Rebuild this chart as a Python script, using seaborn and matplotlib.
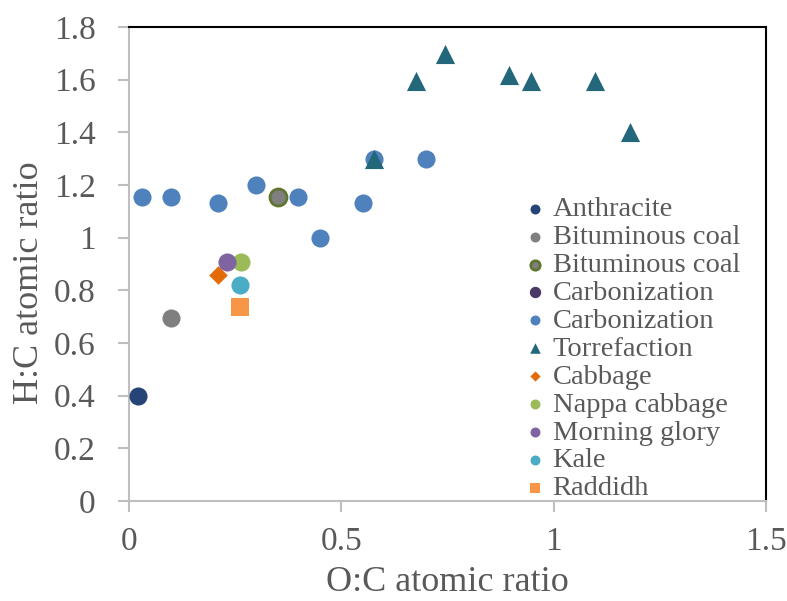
import numpy as np
import pandas as pd
import matplotlib
matplotlib.use('Agg')
import matplotlib.pyplot as plt
import seaborn as sns

# series: (label, O:C values, H:C values)
anthracite_x = [0.022]
anthracite_y = [0.40]
bitum_x = [0.098]
bitum_y = [0.694]
bitum2_x = [0.35]
bitum2_y = [1.155]
carb_dark_x = []
carb_dark_y = []
carb_x = [0.031, 0.099, 0.209, 0.300, 0.398, 0.449, 0.551, 0.576, 0.700]
carb_y = [1.155, 1.155, 1.130, 1.200, 1.155, 1.000, 1.130, 1.300, 1.300]
torr_x = [0.576, 0.677, 0.745, 0.895, 0.947, 1.098, 1.180]
torr_y = [1.300, 1.595, 1.698, 1.618, 1.595, 1.595, 1.403]
cabbage_x = [0.210]
cabbage_y = [0.858]
nappa_x = [0.264]
nappa_y = [0.906]
morning_x = [0.230]
morning_y = [0.906]
kale_x = [0.262]
kale_y = [0.819]
radish_x = [0.262]
radish_y = [0.736]

series = [
    ('Anthracite', anthracite_x, anthracite_y, '#264478', None, 'o', 170),
    ('Bituminous coal', bitum_x, bitum_y, '#7f7f7f', None, 'o', 170),
    ('Bituminous coal', bitum2_x, bitum2_y, '#7f7f7f', '#5f7530', 'o', 150),
    ('Carbonization', carb_dark_x, carb_dark_y, '#4a3866', None, 'o', 170),
    ('Carbonization', carb_x, carb_y, '#4f81bd', None, 'o', 170),
    ('Torrefaction', torr_x, torr_y, '#23687a', None, '^', 190),
    ('Cabbage', cabbage_x, cabbage_y, '#e36c09', None, 'D', 90),
    ('Nappa cabbage', nappa_x, nappa_y, '#9bbb59', None, 'o', 170),
    ('Morning glory', morning_x, morning_y, '#8064a2', None, 'o', 170),
    ('Kale', kale_x, kale_y, '#4bacc6', None, 'o', 170),
    ('Raddidh', radish_x, radish_y, '#f79646', None, 's', 170),
]

sns.set_theme(style='white')
plt.rcParams['font.family'] = ['Liberation Serif', 'DejaVu Serif']

fig = plt.figure(figsize=(7.87, 6.01), dpi=100)
ax = fig.add_axes([129 / 787, 1 - 501 / 601, 637 / 787, 474 / 601])

for label, xs, ys, color, edge, marker, size in series:
    df = pd.DataFrame({'x': xs, 'y': ys}, dtype=float)
    if df.empty:
        ax.scatter([], [], color=color, marker=marker, s=size, label=label)
        continue
    lw = 2 if edge else 0
    sns.scatterplot(data=df, x='x', y='y', ax=ax, color=color, marker=marker, s=size,
                    edgecolor=edge if edge else color, linewidth=lw, label=label, zorder=3)

ax.set_xlim(0, 1.5)
ax.set_ylim(0, 1.8)
ax.set_xticks([0, 0.5, 1, 1.5])
ax.set_xticklabels(['0', '0.5', '1', '1.5'])
ax.set_yticks(np.arange(0, 1.81, 0.2))
ax.set_yticklabels(['0', '0.2', '0.4', '0.6', '0.8', '1', '1.2', '1.4', '1.6', '1.8'])

txt = '#595959'
ax.tick_params(axis='both', which='major', labelsize=24, colors='#bfbfbf', labelcolor=txt,
               direction='out', length=8, width=1.5, bottom=True, left=True)
ax.tick_params(axis='x', pad=10)
ax.tick_params(axis='y', pad=16)
ax.set_xlabel('O:C atomic ratio', fontsize=26, color=txt)
ax.set_ylabel('H:C atomic ratio', fontsize=26, color=txt)
ax.xaxis.set_label_coords(0.5, -0.137)
ax.yaxis.set_label_coords(-0.13, 0.46)

for side in ['left', 'bottom']:
    ax.spines[side].set_color('#bfbfbf')
    ax.spines[side].set_linewidth(1.5)
for side in ['top', 'right']:
    ax.spines[side].set_color('black')
    ax.spines[side].set_linewidth(1.5)

leg = ax.legend(loc='upper left', bbox_to_anchor=(0.618, 0.643), frameon=False,
                fontsize=20.5, labelspacing=0.07, handletextpad=0.15, borderpad=0,
                markerscale=0.55, handlelength=0.9, borderaxespad=0)
for t in leg.get_texts():
    t.set_color(txt)

fig.savefig('out.png', dpi=100)
